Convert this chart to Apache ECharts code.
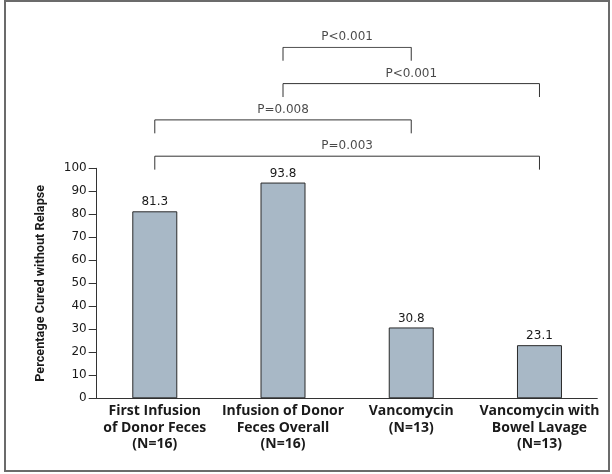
<!DOCTYPE html>
<html><head><meta charset="utf-8">
<script src="https://cdn.jsdelivr.net/npm/echarts@6/dist/echarts.min.js"></script>
<style>html,body{margin:0;padding:0;background:#fff}#c{width:612px;height:474px}</style>
</head><body><div id="c"></div>
<script>
const categories = ['First Infusion\nof Donor Feces\n(N=16)', 'Infusion of Donor\nFeces Overall\n(N=16)', 'Vancomycin\n(N=13)', 'Vancomycin with\nBowel Lavage\n(N=13)'];
const values = [81.3, 93.8, 30.8, 23.1];
const yTicks = [0,10,20,30,40,50,60,70,80,90,100];
const bracketPairs = [[1,2],[1,3],[0,2],[0,3]];
const bracketLevels = [4,3,2,1];
const bracketLabels = ['P<0.001','P<0.001','P=0.008','P=0.003'];

const XMIN = -0.453, XMAX = 3.451;
const gridLeft = 96.7, gridRight = 14.7;
const textCol = '#1a1a1a';
const drop = 0.37;
const numFont = 'DejaVu Sans';

const series = [{
  type: 'bar', xAxisIndex: 0, yAxisIndex: 0,
  data: values.map((v,i)=>[i,v]),
  barWidth: 45,
  itemStyle: {color: '#a8b8c6', borderColor: '#2a2a2a', borderWidth: 1},
  label: {show: true, position: 'top', distance: 3, color: textCol, fontSize: 12, fontFamily: numFont,
    formatter: p => p.value[1].toFixed(1)}
}];
bracketPairs.forEach((pr, k) => {
  const a = pr[0], b = pr[1], l = bracketLevels[k];
  series.push({
    type: 'line', xAxisIndex: 1, yAxisIndex: 1, symbol: 'none', silent: true,
    lineStyle: {color: '#333', width: 1},
    data: [[a, l-drop],[a, l],[b, l],[b, l-drop]]
  });
  series.push({
    type: 'scatter', xAxisIndex: 1, yAxisIndex: 1, symbolSize: 0, silent: true,
    data: [[(a+b)/2, l]],
    label: {show: true, position: 'top', distance: 4, color: textCol, fontSize: 12, fontFamily: numFont,
      formatter: () => bracketLabels[k]}
  });
});

const chart = echarts.init(document.getElementById('c'), null, {renderer: 'canvas'});
chart.setOption({
  animation: false,
  grid: [
    {left: gridLeft, right: gridRight, top: 168.3, bottom: 75.7},
    {left: gridLeft, right: gridRight, top: 47.3, height: 145.2}
  ],
  xAxis: [{
    type: 'value', gridIndex: 0, min: XMIN, max: XMAX,
    axisLine: {show: true, onZero: false, lineStyle: {color: '#333', width: 1}},
    axisTick: {show: false}, splitLine: {show: false},
    axisLabel: {customValues: [0,1,2,3], formatter: v => categories[Math.round(v)],
      color: textCol, fontSize: 14, fontWeight: 'bold', fontFamily: 'Open Sans', lineHeight: 16.3, margin: 5}
  },{
    type: 'value', gridIndex: 1, min: XMIN, max: XMAX, show: false,
    axisLine: {onZero: false}
  }],
  yAxis: [{
    type: 'value', gridIndex: 0, min: 0, max: 100, interval: 10,
    name: 'Percentage Cured without Relapse', nameLocation: 'middle', nameGap: 49,
    nameTextStyle: {color: textCol, fontSize: 12.7, fontWeight: 'bold', fontFamily: 'Roboto'},
    axisLine: {show: true, onZero: false, lineStyle: {color: '#333', width: 1}},
    axisTick: {show: true, length: 8, lineStyle: {color: '#333'}},
    splitLine: {show: false},
    axisLabel: {customValues: yTicks, color: textCol, fontSize: 12, fontFamily: numFont, margin: 10}
  },{
    type: 'value', gridIndex: 1, min: 0, max: 4, show: false,
    axisLine: {onZero: false}
  }],
  graphic: [{type: 'rect', shape: {x: 5, y: 1, width: 604, height: 470}, style: {fill: 'none', stroke: '#6b6b6b', lineWidth: 2}, silent: true}],
  series: series
});
</script></body></html>
